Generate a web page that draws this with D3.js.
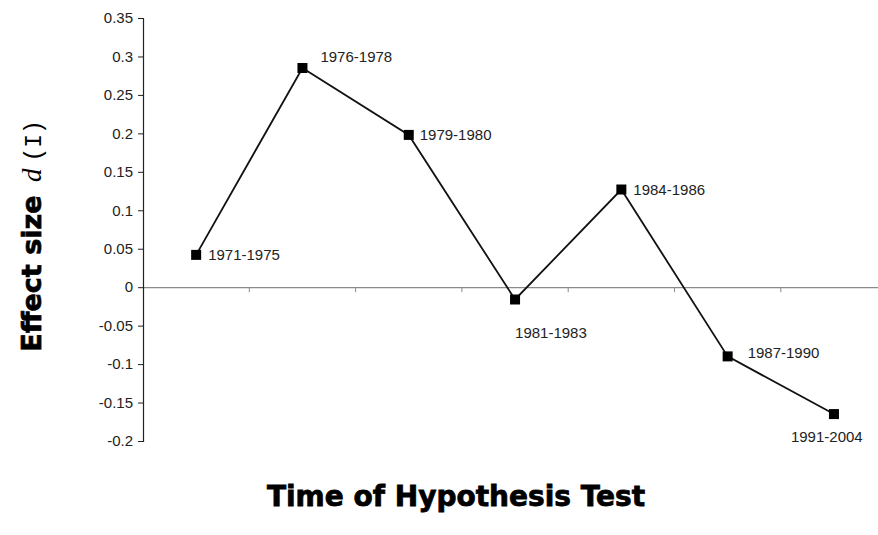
<!DOCTYPE html>
<html>
<head>
<meta charset="utf-8">
<script src="https://cdn.jsdelivr.net/npm/d3@7"></script>
<style>
  body { margin: 0; background: #fff; }
  svg { display: block; }
</style>
</head>
<body>
<svg width="878" height="535"></svg>
<script>
// data
var periods = ["1971-1975", "1976-1978", "1979-1980", "1981-1983", "1984-1986", "1987-1990", "1991-2004"];
var effects = [0.042, 0.285, 0.198, -0.016, 0.127, -0.09, -0.165];
var yTicks = [0.35, 0.3, 0.25, 0.2, 0.15, 0.1, 0.05, 0, -0.05, -0.1, -0.15, -0.2];

// label offsets from each marker (dx, dy)
var labelPos = [
  [12, 5],
  [18, -6],
  [11, 5],
  [0, 39],
  [12, 5],
  [20, 2],
  [-43, 28]
];

var svg = d3.select("svg");
var plotLeft = 143, plotTop = 18, plotBottom = 441;

var x = d3.scaleBand().domain(periods).range([plotLeft, plotLeft + 7 * 106.3]);
var y = d3.scaleLinear().domain([-0.2, 0.35]).range([plotBottom, plotTop]);

var labelFont = "'Liberation Sans Narrow', 'Liberation Sans', Arial, sans-serif";

// zero line with category ticks
var xAxis = svg.append("g")
  .attr("transform", "translate(0," + y(0) + ")")
  .call(d3.axisBottom(x).tickSize(0).tickFormat(""));
xAxis.select(".domain").attr("stroke", "#8a8a8a").attr("stroke-width", 1.2);
xAxis.selectAll(".tick").remove();
xAxis.selectAll("line.bound")
  .data(periods.slice(1))
  .enter().append("line")
  .attr("class", "bound")
  .attr("x1", function (d) { return x(d); })
  .attr("x2", function (d) { return x(d); })
  .attr("y1", 0).attr("y2", 5)
  .attr("stroke", "#8a8a8a");

// y axis
var yAxis = svg.append("g")
  .attr("transform", "translate(" + plotLeft + ",0)")
  .call(d3.axisLeft(y).tickValues(yTicks).tickSize(5).tickSizeOuter(5)
    .tickFormat(function (d) { return d === 0 ? "0" : String(+d.toFixed(2)); }));
yAxis.select(".domain").attr("stroke", "#222").attr("stroke-width", 1.2);
yAxis.selectAll(".tick line").attr("stroke", "#222");
yAxis.selectAll(".tick text")
  .attr("x", -10)
  .style("font-family", "'Liberation Sans', Arial, sans-serif")
  .style("font-size", "15px")
  .attr("fill", "#222");

// line
var line = d3.line()
  .x(function (d, i) { return x(periods[i]) + x.bandwidth() / 2; })
  .y(function (d) { return y(d); });

svg.append("path")
  .datum(effects)
  .attr("d", line)
  .attr("fill", "none")
  .attr("stroke", "#111")
  .attr("stroke-width", 1.8);

// markers
svg.selectAll("rect.pt")
  .data(effects)
  .enter().append("rect")
  .attr("class", "pt")
  .attr("x", function (d, i) { return x(periods[i]) + x.bandwidth() / 2 - 5; })
  .attr("y", function (d) { return y(d) - 5; })
  .attr("width", 10).attr("height", 10)
  .attr("fill", "#000");

// point labels
svg.selectAll("text.lbl")
  .data(effects)
  .enter().append("text")
  .attr("class", "lbl")
  .attr("x", function (d, i) { return x(periods[i]) + x.bandwidth() / 2 + labelPos[i][0]; })
  .attr("y", function (d, i) { return y(d) + labelPos[i][1]; })
  .style("font-family", labelFont)
  .style("font-size", "15px")
  .attr("fill", "#222")
  .text(function (d, i) { return periods[i]; });

// axis titles
svg.append("text")
  .attr("x", 456).attr("y", 506)
  .attr("text-anchor", "middle")
  .style("font-family", "'DejaVu Sans', sans-serif")
  .style("font-weight", "bold")
  .style("font-size", "28px")
  .attr("stroke", "#000").attr("stroke-width", 0.8)
  .text("Time of Hypothesis Test");

var yt = svg.append("text")
  .attr("transform", "translate(41,236) rotate(-90)")
  .attr("text-anchor", "middle")
  .style("font-size", "27px");
yt.append("tspan")
  .style("font-family", "'DejaVu Sans', sans-serif")
  .style("font-weight", "bold")
  .attr("stroke", "#000").attr("stroke-width", 0.7)
  .text("Effect size ");
yt.append("tspan")
  .style("font-family", "'Liberation Serif', 'Times New Roman', serif")
  .style("font-style", "italic")
  .attr("dx", 4)
  .text("d");
yt.append("tspan")
  .style("font-family", "'Liberation Mono', 'DejaVu Sans Mono', monospace")
  .style("font-size", "23px")
  .attr("dx", 7)
  .text("(I)");
</script>
</body>
</html>
